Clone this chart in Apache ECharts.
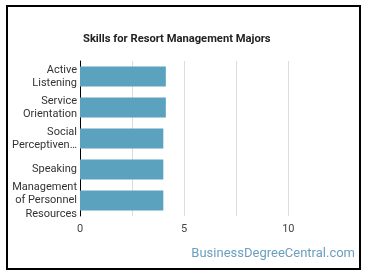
<!DOCTYPE html>
<html><head><meta charset="utf-8">
<script src="https://cdn.jsdelivr.net/npm/echarts@6/dist/echarts.min.js"></script>
<style>html,body{margin:0;padding:0;background:#fff}#c{width:370px;height:278px}</style>
</head><body><div id="c"></div>
<script>
const categories = ["Active\nListening", "Service\nOrientation", "Social\nPerceptiven…", "Speaking", "Management\nof Personnel\nResources"];
const values = [4.12, 4.12, 4.0, 4.0, 4.0];
const xTicks = [0, 5, 10];

const chart = echarts.init(document.getElementById('c'), null, {renderer: 'canvas'});
chart.setOption({
  animation: false,
  title: {
    text: 'Skills for Resort Management Majors',
    left: 78, top: 29,
    textStyle: {fontFamily: 'Roboto', fontSize: 11.2, fontWeight: 'bold', color: '#222'}
  },
  grid: {left: 80, top: 61, width: 260.4, height: 155},
  xAxis: {
    type: 'value', min: 0, max: 12.5, interval: 2.5,
    axisLine: {show: false}, axisTick: {show: false},
    axisLabel: {
      fontFamily: 'Roboto', fontSize: 11, color: '#444', margin: 8,
      formatter: v => xTicks.includes(v) ? String(v) : ''
    },
    splitLine: {show: true, lineStyle: {color: ['#dcdcdc','#dcdcdc','#dcdcdc','#dcdcdc','#dcdcdc','rgba(0,0,0,0)'], width: 1}}
  },
  yAxis: {
    type: 'category', data: categories, inverse: true,
    axisLine: {show: true, lineStyle: {color: '#000', width: 1}},
    axisTick: {show: false},
    axisLabel: {fontFamily: 'Roboto', fontSize: 11, color: '#333', lineHeight: 13.5, margin: 3}
  },
  series: [{
    type: 'bar', data: values, barWidth: 20,
    itemStyle: {color: '#5ba2bf'}
  }],
  graphic: [
    {type: 'rect', shape: {x: 7, y: 6, width: 353, height: 263}, style: {fill: 'none', stroke: '#000', lineWidth: 2}, silent: true},
    {type: 'text', right: 15, top: 247, style: {text: 'BusinessDegreeCentral.com', fontFamily: 'Roboto', fontSize: 13, fill: '#6a9fc0'}}
  ]
});
</script></body></html>
